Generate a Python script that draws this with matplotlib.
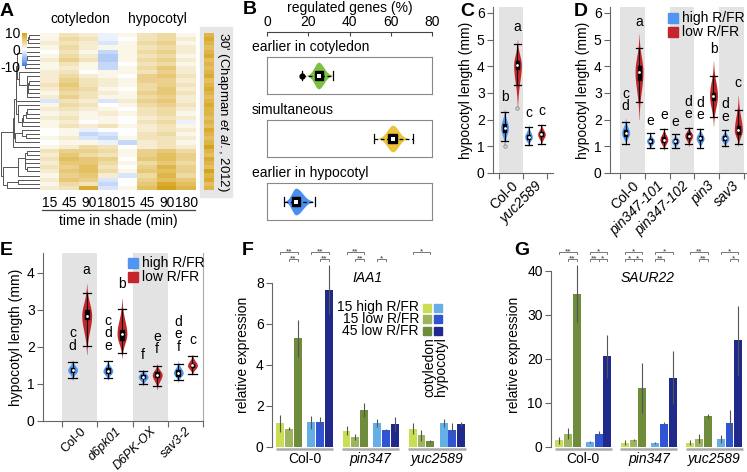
import numpy as np
import matplotlib
matplotlib.use('Agg')
import matplotlib.pyplot as plt
import matplotlib.transforms as mtrans
from matplotlib.colors import LinearSegmentedColormap
from matplotlib.lines import Line2D
from matplotlib.patches import Rectangle

plt.rcParams['font.family'] = ['Liberation Sans', 'DejaVu Sans']
plt.rcParams['font.size'] = 10
plt.rcParams['axes.unicode_minus'] = False
plt.rcParams['mathtext.fontset'] = 'custom'
plt.rcParams['mathtext.rm'] = 'Liberation Sans'
plt.rcParams['mathtext.it'] = 'Liberation Sans:italic'

# ---------------- data ----------------
# A: heatmap, columns cotyledon 15/45/90/180 then hypocotyl 15/45/90/180
heat_cols = ['15', '45', '90', '180', '15', '45', '90', '180']
heat = np.array([
    [1, 3, 2, -1, 1, 3, 4, 1],
    [1, 4, 3, -1, 0, 3, 4, 2],
    [2, 3, 2, -2, 1, 4, 5, 1],
    [1, 4, 2, 1, 1, 3, 4, 2],
    [0, 3, 1, -3, 1, 4, 5, 2],
    [1, 4, 2, -4, 1, 3, 4, 1],
    [2, 5, 3, -4, 1, 4, 5, 2],
    [1, 3, 1, -3, 0, 3, 4, 1],
    [1, 2, 1, -3, 1, 4, 6, 2],
    [2, 3, 0, 1, 1, 3, 5, 2],
    [2, 4, 2, 1, 0, 5, 6, 3],
    [2, 5, 3, 2, 1, 5, 5, 2],
    [3, 6, 3, 2, 1, 4, 5, 3],
    [2, 5, 4, 1, 0, 4, 6, 2],
    [1, 4, 3, 2, 1, 5, 6, 3],
    [2, 5, 3, 1, 1, 4, 5, 2],
    [-2, 3, 2, -2, 2, 5, 6, 2],
    [1, 4, 3, 0, 1, 4, 5, 3],
    [2, 3, 2, 1, 0, 3, 4, 2],
    [1, 2, 1, 2, 1, 3, 4, 1],
    [2, 3, 1, 1, 0, 2, 3, 2],
    [1, 2, 0, 1, 0, 3, 4, -1],
    [1, 3, 2, 3, 1, 2, 3, 1],
    [0, 1, -1, 0, 0, 2, 3, 2],
    [0, 1, -3, -2, 0, 3, 4, 1],
    [1, 2, -2, -3, 1, 3, 3, 2],
    [0, 1, 1, -1, -3, 2, 3, 1],
    [1, 2, 4, 3, 0, 2, 3, 2],
    [3, 5, 5, 4, 1, 5, 6, 4],
    [2, 6, 4, 3, 1, 5, 7, 5],
    [3, 7, 6, 5, 0, 6, 7, 5],
    [2, 6, 6, 4, 1, 4, 6, 4],
    [3, 5, 7, 3, 0, 5, 8, 5],
    [2, 6, 7, 4, 1, 6, 7, 5],
    [1, 5, 6, 2, -2, 4, 8, 4],
    [2, 6, 5, -2, 0, 5, 7, 6],
    [1, 4, 3, -3, 0, 6, 9, 7],
    [2, 3, 9, -2, 1, 7, 10, 8],
], dtype=float)
chapman = [8, 9, 8, 7, 8, 9, 7, 8, 7, 8, 9, 7, 8, 9, 8, 7, 8, 9, 8,
           8, 7, 8, 7, 9, 8, 7, 8, 10, 8, 7, 9, 8, 7, 10, 8, 9, 7, 8]

# B: violin summaries  lo, q1, median, q3, hi, whisker lo, whisker hi
b_titles = ['earlier in cotyledon', 'simultaneous', 'earlier in hypocotyl']
b_stats = [[19.4, 23.3, 25, 27.2, 31.5, 17, 32],
           [54, 58.7, 61, 63.1, 68, 52, 71],
           [8.7, 12, 14, 16, 22.3, 8.2, 23.3]]
b_out = [[17], [], []]
b_colors = ['#7cc242', '#ebc23a', '#4a8ff0']

# C
c_lines = ['Col-0', 'yuc2589']
c_high = [[1.0, 1.55, 1.7, 1.85, 2.4, 1.2, 2.3], [1.0, 1.28, 1.35, 1.42, 1.8, 1.05, 1.72]]
c_low = [[2.4, 3.9, 4.05, 4.2, 5.0, 3.3, 4.85], [1.05, 1.4, 1.45, 1.52, 1.85, 1.1, 1.8]]
c_out_high = [[1.02], []]
c_out_low = [[2.45], []]
c_let_high = ['b', 'c']
c_let_low = ['a', 'c']

# D
d_lines = ['Col-0', 'pin347-101', 'pin347-102', 'pin3', 'sav3']
d_high = [[1.05, 1.4, 1.5, 1.6, 2.05, 1.1, 1.9],
          [0.9, 1.12, 1.2, 1.28, 1.5, 0.95, 1.5],
          [0.9, 1.12, 1.2, 1.28, 1.45, 0.95, 1.45],
          [0.9, 1.22, 1.3, 1.38, 1.7, 0.95, 1.65],
          [0.95, 1.22, 1.3, 1.38, 1.65, 1.0, 1.6]]
d_low = [[2.0, 3.5, 3.8, 4.0, 5.2, 2.65, 4.7],
         [0.85, 1.15, 1.25, 1.35, 1.7, 0.95, 1.65],
         [1.0, 1.3, 1.4, 1.5, 1.75, 1.1, 1.7],
         [1.75, 2.75, 2.9, 3.0, 4.2, 2.1, 3.65],
         [1.0, 1.45, 1.6, 1.75, 2.9, 1.1, 2.35]]
d_let_high = ['c\nd', 'e', 'e', 'd\ne', 'd\ne']
d_let_low = ['a', 'e', 'd\ne', 'b', 'c']

# E
e_lines = ['Col-0', 'd6pk01', 'D6PK-OX', 'sav3-2']
e_high = [[1.1, 1.32, 1.38, 1.44, 1.65, 1.15, 1.6],
          [1.1, 1.3, 1.35, 1.42, 1.65, 1.15, 1.62],
          [0.95, 1.15, 1.2, 1.25, 1.4, 1.0, 1.35],
          [1.05, 1.22, 1.3, 1.38, 1.62, 1.1, 1.55]]
e_low = [[1.8, 2.75, 2.85, 3.0, 3.7, 2.02, 3.45],
         [1.7, 2.2, 2.35, 2.45, 3.3, 1.85, 3.03],
         [0.85, 1.18, 1.25, 1.32, 1.55, 0.95, 1.48],
         [1.25, 1.45, 1.5, 1.55, 1.8, 1.28, 1.75]]
e_let_high = ['c\nd', 'c\nd\ne', 'f', 'd\ne\nf']
e_let_low = ['a', 'b', 'e\nf', 'c']

# F / G: qPCR, per genotype: cot 15 high, 15 low, 45 low, hyp 15 high, 15 low, 45 low
fg_lines = ['Col-0', 'pin347', 'yuc2589']
f_mean = [[1.15, 0.9, 5.3, 1.2, 1.2, 7.65],
          [0.8, 0.5, 1.8, 1.15, 0.82, 1.12],
          [0.9, 0.58, 0.28, 1.15, 0.85, 1.12]]
f_err = [[0.43, 0.08, 0.9, 0.32, 0.25, 1.2],
         [0.22, 0.15, 0.33, 0.2, 0.06, 0.35],
         [0.25, 0.27, 0.05, 0.2, 0.32, 0.1]]
f_sig = [(0, 0, 2, 0, '**'), (0, 1, 2, 1, '**'), (0, 3, 5, 0, '**'), (0, 4, 5, 1, '**'),
         (1, 0, 2, 0, '**'), (1, 1, 2, 1, '**'), (1, 3, 4, 1, '*'), (2, 0, 2, 0, '*')]
g_mean = [[1.5, 3.0, 34.8, 1.1, 3.0, 20.6],
          [1.0, 1.6, 13.4, 0.9, 5.3, 15.7],
          [1.0, 1.9, 7.0, 1.8, 5.5, 24.2]]
g_err = [[0.8, 1.25, 6.5, 0.3, 0.6, 4.9],
         [0.5, 0.2, 5.7, 0.2, 0.4, 6.0],
         [0.6, 1.0, 0.4, 1.0, 3.0, 7.8]]
g_sig = [(0, 0, 2, 0, '**'), (0, 1, 2, 1, '**'), (0, 3, 5, 0, '*'), (0, 3, 4, 1, '**'),
         (0, 4, 5, 1, '*'), (1, 0, 2, 0, '*'), (1, 0, 1, 1, '*'), (1, 1, 2, 1, '*'),
         (1, 3, 5, 0, '*'), (1, 3, 4, 1, '**'), (2, 0, 2, 0, '**'), (2, 1, 2, 1, '**'),
         (2, 3, 5, 0, '*'), (2, 4, 5, 1, '*')]
fg_legend = ['15 high R/FR', '15 low R/FR', '45 low R/FR']
cot_colors = ['#c9dd55', '#9db55c', '#6e8c3c']
hyp_colors = ['#66aee6', '#2f55d4', '#1f2a8c']

BLUE = '#5096f0'
RED = '#c4262b'
BAND = '#e3e3e3'
SPINE = '#666666'

W, H = 747, 472
fig = plt.figure(figsize=(W / 100, H / 100), dpi=100)


def axes_px(l, t, r, b):
    return fig.add_axes([l / W, 1 - b / H, (r - l) / W, (b - t) / H])


def ftext(x, y, s, **kw):
    return fig.text(x / W, 1 - y / H, s, **kw)


def violin(ax, pos, st, color, hw, bw, cap, horiz=False, out=(), ocol='#888888'):
    lo, q1, med, q3, hi, wlo, whi = st
    v = np.linspace(lo, hi, 150)
    s = np.where(v < med, (med - lo) / 2.6, (hi - med) / 2.6)
    w = hw * np.exp(-0.5 * ((v - med) / s) ** 2)
    if horiz:
        ax.fill_between(v, pos - w, pos + w, color=color, lw=0, zorder=2)
        ax.plot([wlo, whi], [pos, pos], color='k', lw=0.9, ls=(0, (3, 2)), zorder=3)
        for e in (wlo, whi):
            ax.plot([e, e], [pos - cap, pos + cap], color='k', lw=0.9, zorder=3)
        ax.add_patch(Rectangle((q1, pos - bw), q3 - q1, 2 * bw, color='k', zorder=4))
        ax.plot(med, pos, marker='s', ms=3.5, color='white', mew=0, zorder=5)
        for o in out:
            ax.plot(o, pos, 'o', ms=3.5, color='k', zorder=5)
    else:
        ax.fill_betweenx(v, pos - w, pos + w, color=color, lw=0, zorder=2)
        ax.plot([pos, pos], [wlo, whi], color='k', lw=0.8, zorder=3)
        for e in (wlo, whi):
            ax.plot([pos - cap, pos + cap], [e, e], color='k', lw=0.9, zorder=3)
        ax.add_patch(Rectangle((pos - bw, q1), 2 * bw, q3 - q1, color='k', zorder=4))
        ax.plot(pos, med, marker='o', ms=2, color='white', mew=0, zorder=5)
        for o in out:
            ax.plot(pos, o, 'o', ms=2.5, mfc='none', mec=ocol, mew=0.6, zorder=5)


def violin_panel(ax, names, high, low, let_high, let_low, off, hw, ylim, xlim,
                 bands, yticks, outs_high=None, outs_low=None, xfs=10):
    ax.set_xlim(*xlim)
    ax.set_ylim(*ylim)
    for g in bands:
        ax.axvspan(g - 0.5, g + 0.5, color=BAND, lw=0, zorder=0)
    for g in range(len(names)):
        oh = outs_high[g] if outs_high else ()
        ol = outs_low[g] if outs_low else ()
        violin(ax, g - off, high[g], BLUE, hw, hw * 0.38, hw * 0.85, out=oh)
        violin(ax, g + off, low[g], RED, hw, hw * 0.38, hw * 0.85, out=ol)
        ax.text(g - off, high[g][4] + 0.2, let_high[g], ha='center', va='bottom',
                fontsize=10, linespacing=0.85)
        ax.text(g + off, low[g][4] + 0.2, let_low[g], ha='center', va='bottom',
                fontsize=10, linespacing=0.85)
    for sp in ('top', 'right'):
        ax.spines[sp].set_visible(False)
    for sp in ('left', 'bottom'):
        ax.spines[sp].set_color(SPINE)
    ax.set_yticks(yticks)
    ax.set_xticks(np.arange(len(names) + 1) - 0.5)
    ax.set_xticklabels([])
    ax.set_xticks(np.arange(len(names)), minor=True)
    ax.set_xticklabels(names, minor=True, rotation=45, ha='right',
                       rotation_mode='anchor', fontsize=xfs)
    for lab in ax.get_xticklabels(minor=True):
        if lab.get_text() != 'Col-0':
            lab.set_fontstyle('italic')
    ax.tick_params(axis='x', which='minor', length=0, pad=4)
    ax.tick_params(axis='x', which='major', length=4, color=SPINE)
    ax.tick_params(axis='y', length=4, color=SPINE, labelsize=10, pad=2)
    ax.set_ylabel('hypocotyl length (mm)', fontsize=10, labelpad=3)


# ---------------- A ----------------
cmap = LinearSegmentedColormap.from_list('bwy', ['#3f7fe6', '#ffffff', '#d6a41c'])
ax_h = axes_px(40, 33, 196, 190)
ax_h.imshow(heat, cmap=cmap, vmin=-10, vmax=10, aspect='auto', interpolation='nearest')
ax_h.set_xticks(range(len(heat_cols)))
ax_h.set_xticklabels(heat_cols, fontsize=10)
ax_h.tick_params(length=0, pad=4)
ax_h.set_yticks([])
for sp in ax_h.spines.values():
    sp.set_visible(False)
ftext(80, 19, 'cotyledon', ha='center', va='center', fontsize=10)
ftext(157, 19, 'hypocotyl', ha='center', va='center', fontsize=10)
fig.add_artist(Line2D([42 / W, 195 / W], [1 - 210 / H] * 2, color='#444444', lw=0.9))
ftext(118, 221, 'time in shade (min)', ha='center', va='center', fontsize=10)

# dendrogram (adjacent-merge average linkage of the heatmap rows)
ax_d = axes_px(0, 33, 40, 190)
clusters = [dict(ids=[i], y=float(i), h=0.0) for i in range(len(heat))]
merges = []
while len(clusters) > 1:
    dist = [np.linalg.norm(heat[clusters[k]['ids']].mean(0) - heat[clusters[k + 1]['ids']].mean(0))
            for k in range(len(clusters) - 1)]
    k = int(np.argmin(dist))
    a, b = clusters[k], clusters[k + 1]
    hgt = max(dist[k], a['h'], b['h']) + 0.05
    merges.append((a, b, hgt))
    clusters[k:k + 2] = [dict(ids=a['ids'] + b['ids'], y=(a['y'] + b['y']) / 2, h=hgt)]
for a, b, hgt in merges:
    ax_d.plot([a['h'], hgt, hgt, b['h']], [a['y'], a['y'], b['y'], b['y']],
              color='#555555', lw=0.7)
ax_d.set_xlim(clusters[0]['h'] * 1.03, 0)
ax_d.set_ylim(len(heat) - 0.5, -0.5)
ax_d.axis('off')

# colour key
ax_k = axes_px(22, 33, 27, 66)
ax_k.imshow(np.linspace(10, -10, 50)[:, None], cmap=cmap, vmin=-10, vmax=10,
            aspect='auto', extent=[0, 1, -10, 10])
ax_k.set_xticks([])
ax_k.set_yticks([10, 0, -10])
ax_k.set_yticklabels(['10', '0', '-10'], fontsize=10)
ax_k.tick_params(length=0, pad=1)
for sp in ax_k.spines.values():
    sp.set_visible(False)

# Chapman et al. column
fig.add_artist(Rectangle((200 / W, 1 - 197 / H), 32 / W, 170 / H, color='#e6e6e6',
                         transform=fig.transFigure, zorder=0))
ax_c30 = axes_px(204, 33, 214, 190)
ax_c30.imshow(np.array(chapman, dtype=float)[:, None], cmap=cmap, vmin=-10, vmax=10,
              aspect='auto', interpolation='nearest')
ax_c30.axis('off')
ftext(223, 112, r"30' (Chapman $\mathit{et\ al.}$, 2012)", rotation=-90,
      ha='center', va='center', fontsize=9.5)

# ---------------- B ----------------
ax_bt = axes_px(267, 32, 432, 33)
ax_bt.set_xlim(0, 80)
ax_bt.set_yticks([])
for sp in ('bottom', 'left', 'right'):
    ax_bt.spines[sp].set_visible(False)
ax_bt.spines['top'].set_color('#444444')
ax_bt.xaxis.tick_top()
ax_bt.xaxis.set_label_position('top')
ax_bt.set_xticks([0, 20, 40, 60, 80])
ax_bt.tick_params(axis='x', direction='in', length=3, pad=2, labelsize=10, color='#444444')
ax_bt.set_xlabel('regulated genes (%)', fontsize=10, labelpad=2)
for i, (top, bot) in enumerate([(57, 94), (120, 157), (183, 220)]):
    ax_b = axes_px(267, top, 432, bot)
    ax_b.set_xlim(0, 80)
    ax_b.set_ylim(-1, 1)
    ax_b.set_xticks([])
    ax_b.set_yticks([])
    for sp in ax_b.spines.values():
        sp.set_color('#888888')
    violin(ax_b, 0, b_stats[i], b_colors[i], 0.72, 0.22, 0.25, horiz=True, out=b_out[i])
    ftext(252, top - 10, b_titles[i], ha='left', va='center', fontsize=10)

# ---------------- C ----------------
ax_cc = axes_px(493, 7, 553, 173)
violin_panel(ax_cc, c_lines, c_high, c_low, c_let_high, c_let_low, 0.27, 0.16,
             (0, 6.22), (-0.75, 1.75), [0], range(7), c_out_high, c_out_low)

# ---------------- D ----------------
ax_dd = axes_px(610, 7, 747, 173)
violin_panel(ax_dd, d_lines, d_high, d_low, d_let_high, d_let_low, 0.27, 0.16,
             (0, 6.22), (-0.9, 4.62), [0, 2, 4], range(7))
for j, (lab, col) in enumerate([('high R/FR', BLUE), ('low R/FR', RED)]):
    fig.add_artist(Rectangle((668 / W, 1 - (23 + 14 * j) / H), 10 / W, 10 / H,
                             color=col, transform=fig.transFigure))
    ftext(682, 18 + 14 * j, lab, ha='left', va='center', fontsize=10)

# ---------------- E ----------------
ax_e = axes_px(43, 253, 203, 421)
violin_panel(ax_e, e_lines, e_high, e_low, e_let_high, e_let_low, 0.2, 0.14,
             (0, 4.54), (-1.04, 3.5), [0, 2], range(5), xfs=9)
ax_e.spines['right'].set_visible(True)
ax_e.spines['right'].set_color('#aaaaaa')
ax_e.tick_params(axis='x', which='minor', pad=3)
for j, (lab, col) in enumerate([('high R/FR', BLUE), ('low R/FR', RED)]):
    fig.add_artist(Rectangle((128 / W, 1 - (268 + 14 * j) / H), 10 / W, 10 / H,
                             color=col, transform=fig.transFigure))
    ftext(142, 263 + 14 * j, lab, ha='left', va='center', fontsize=10)

# ---------------- F / G ----------------
bar_off = np.array([0, 1, 2, 3.5, 4.5, 5.5])
step = 7.5


def bar_panel(ax, means, errs, sig, ylim, yticks, top_tick, gene, gene_x):
    colors = cot_colors + hyp_colors
    for g in range(len(fg_lines)):
        xs = g * step + bar_off
        ax.bar(xs, means[g], width=0.9, color=colors, zorder=2)
        ax.errorbar(xs, means[g], yerr=errs[g], fmt='none', ecolor='#555555',
                    elinewidth=0.8, capsize=0, zorder=3)
        ax.plot([xs[0] - 0.5, xs[-1] + 0.5], [-0.012 * ylim[1]] * 2, color='#aaaaaa',
                lw=1.8, clip_on=False, solid_capstyle='butt')
        ax.text(g * step + 2.75, -0.065 * ylim[1], fg_lines[g], ha='center', va='center',
                fontsize=10, fontstyle='normal' if g == 0 else 'italic')
    ax.set_xlim(-0.95, 21.5)
    ax.set_ylim(*ylim)
    ax.set_xticks([])
    ax.set_yticks(yticks)
    ax.spines['left'].set_bounds(0, top_tick)
    ax.spines['left'].set_color(SPINE)
    for sp in ('top', 'right', 'bottom'):
        ax.spines[sp].set_visible(False)
    ax.tick_params(axis='y', length=4, color=SPINE, labelsize=10, pad=2)
    ax.set_ylabel('relative expression', fontsize=10, labelpad=4)
    tr = mtrans.blended_transform_factory(ax.transData, fig.transFigure)
    for g, i, j, lev, txt in sig:
        x0 = g * step + bar_off[i]
        x1 = g * step + bar_off[j]
        yl = 1 - (252 + 7 * lev) / H
        dy = 2 / H
        ax.plot([x0, x0, x1, x1], [yl - dy, yl, yl, yl - dy], color='#777777', lw=0.7,
                transform=tr, clip_on=False)
        ax.text((x0 + x1) / 2, yl + 0.5 / H, txt, transform=tr, ha='center',
                va='center', fontsize=6, color='#333333')
    ftext(gene_x, 278, gene, ha='center', va='center', fontsize=10, fontstyle='italic')


ax_f = axes_px(272, 262, 470, 447)
bar_panel(ax_f, f_mean, f_err, f_sig, (0, 9), [0, 2, 4, 6, 8], 8, 'IAA1', 368)
ftext(419, 319, '\n'.join(fg_legend), ha='right', va='center', multialignment='right',
      fontsize=10, linespacing=0.85)
for j in range(len(fg_legend)):
    y = 307.5 + 11.8 * j
    fig.add_artist(Rectangle((423 / W, 1 - (y + 4) / H), 8 / W, 8 / H,
                             color=cot_colors[j], transform=fig.transFigure))
    fig.add_artist(Rectangle((434 / W, 1 - (y + 4) / H), 8 / W, 8 / H,
                             color=hyp_colors[j], transform=fig.transFigure))
ftext(435, 337, 'cotyledon\nhypocotyl', rotation=90, ha='center', va='top',
      multialignment='right', fontsize=10, linespacing=0.8)

ax_g = axes_px(551, 262, 747, 447)
bar_panel(ax_g, g_mean, g_err, g_sig, (0, 42), [0, 10, 20, 30, 40], 40, 'SAUR22', 648)

# panel letters
for lab, x, y in [('A', 7, 11), ('B', 250, 10), ('C', 467, 11), ('D', 581, 11),
                  ('E', 6, 250), ('F', 248, 250), ('G', 522, 250)]:
    ftext(x, y, lab, ha='center', va='center', fontsize=14, fontweight='bold')

fig.savefig('out.png', dpi=100)
